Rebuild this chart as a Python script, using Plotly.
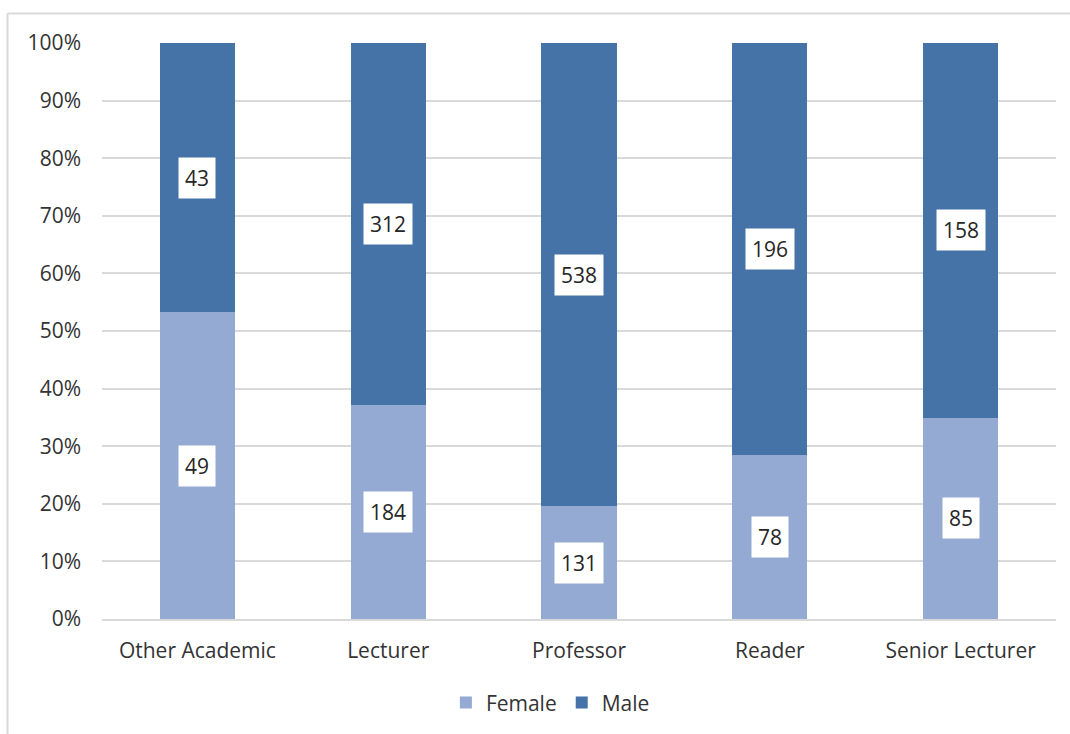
import plotly.graph_objects as go

categories = ["Other Academic", "Lecturer", "Professor", "Reader", "Senior Lecturer"]
female = [49, 184, 131, 78, 85]
male = [43, 312, 538, 196, 158]

FEMALE_COLOR = "#95AAD2"
MALE_COLOR = "#4573A8"
FONT = "Open Sans"
TXT = "#333333"
FS = 21

fig = go.Figure()
fig.add_trace(go.Bar(name="Female", x=categories, y=female, marker_color=FEMALE_COLOR,
                     marker_line_width=0))
fig.add_trace(go.Bar(name="Male", x=categories, y=male, marker_color=MALE_COLOR,
                     marker_line_width=0))

annotations = []
for c, f, m in zip(categories, female, male):
    tot = f + m
    fp = f / tot * 100
    mp = m / tot * 100
    for val, yy in ((f, fp / 2), (m, fp + mp / 2)):
        annotations.append(dict(x=c, y=yy, text=str(val), showarrow=False, bgcolor="white",
                                borderpad=6, font=dict(family=FONT, size=FS, color="#262626")))

fig.update_layout(
    barmode="stack",
    barnorm="percent",
    bargap=0.606,
    width=1070, height=734,
    margin=dict(l=102, r=14, t=43, b=115, autoexpand=False),
    paper_bgcolor="white", plot_bgcolor="white",
    font=dict(family=FONT, size=FS, color=TXT),
    annotations=annotations,
    legend=dict(orientation="h", x=0.47, xanchor="center", y=-0.11, yanchor="top",
                font=dict(family=FONT, size=FS, color=TXT), traceorder="normal",
                itemwidth=30),
    xaxis=dict(showline=True, linecolor="#d9d9d9", linewidth=2, ticks="",
               ticklabelstandoff=12, automargin=False,
               tickfont=dict(family=FONT, size=FS, color=TXT)),
    yaxis=dict(range=[0, 100], dtick=10, ticksuffix="%", showgrid=True, gridcolor="#d9d9d9",
               gridwidth=2, zeroline=False, ticks="", ticklabelstandoff=20, automargin=False,
               tickfont=dict(family=FONT, size=FS, color=TXT)),
    shapes=[
        dict(type="line", xref="paper", yref="paper", x0=(7.5 - 102) / 954, x1=(1072 - 102) / 954,
             y0=(734 - 115 - 13.5) / 576, y1=(734 - 115 - 13.5) / 576,
             line=dict(color="#d9d9d9", width=2)),
        dict(type="line", xref="paper", yref="paper", x0=(7.5 - 102) / 954, x1=(7.5 - 102) / 954,
             y0=(734 - 115 - 13.5) / 576, y1=-(740 - 619) / 576,
             line=dict(color="#d9d9d9", width=2)),
    ],
)

fig.write_html("out.html")
